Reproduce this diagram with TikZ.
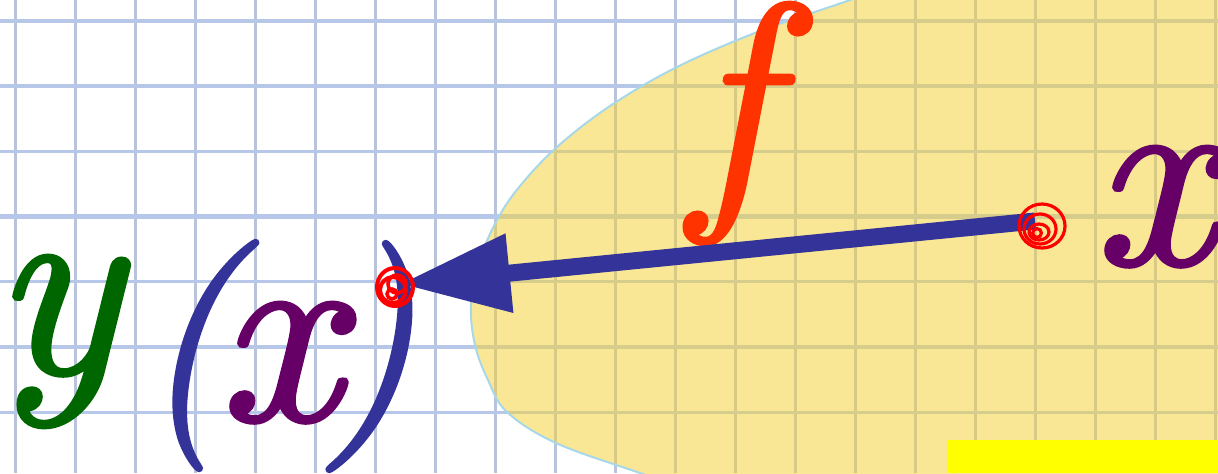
\documentclass[tikz,border=0pt]{standalone}
\usepackage{fontspec}
\newfontfamily\glyphfont{lmroman10-italic.otf}[FakeBold=1.4]
\usetikzlibrary{arrows.meta}
\definecolor{gridv}{RGB}{186,195,220}
\definecolor{gridh}{RGB}{182,199,233}
\definecolor{ellfill}{RGB}{247,209,47}
\definecolor{ellline}{RGB}{168,216,232}
\definecolor{fcol}{RGB}{255,51,0}
\definecolor{xcol}{RGB}{102,0,102}
\definecolor{ycol}{RGB}{0,102,0}
\definecolor{pcol}{RGB}{51,51,153}
\definecolor{scrib}{RGB}{255,0,0}
\definecolor{boxyellow}{RGB}{255,255,0}
\begin{document}
\begin{tikzpicture}[x=0.5pt,y=-0.5pt,
  glyph/.style={inner sep=0pt, outer sep=0pt, anchor=base west, font=\glyphfont\fontsize{133}{133}\selectfont},
  paren/.style={inner sep=0pt, outer sep=0pt, anchor=base west, font=\glyphfont\fontsize{115}{115}\selectfont},
  vline/.style={draw=gridv, line width=1.5pt},
  hline/.style={draw=gridh, line width=1.6pt},
  hthick/.style={draw=gridh, line width=2.2pt},
  scribble/.style={draw=scrib, line width=1.6pt},
  arrowline/.style={draw=pcol, line width=8.5pt, -{Triangle[length=55pt,width=37.5pt]}},
  ellshape/.style={fill=ellfill, fill opacity=0.5},
  ellborder/.style={draw=ellline, line width=1pt}
  ]
\useasboundingbox (0,0) rectangle (1218,473);
\clip (0,0) rectangle (1218,473);
\fill[white] (0,0) rectangle (1218,473);
% grid
\foreach \i in {0,...,20} \draw[vline] ({15+60*\i},0) -- ({15+60*\i},473);
\foreach \j in {0,2,4,6,7} \draw[hline] (0,{21+65.2*\j}) -- (1218,{21+65.2*\j});
\foreach \j in {1,3,5} \draw[hthick] (0,{21+65.2*\j}) -- (1218,{21+65.2*\j});
% ellipse region
\path[ellshape] plot[smooth, tension=0.6] coordinates {(930,-30) (850,0) (760,31) (677,67) (610,106) (557,147) (520,186) (497,220) (479,262) (471,305) (475,345) (488,380) (507,412) (556,443) (640,473) (720,500)} -- (1300,500) -- (1300,-30) -- cycle;
\draw[ellborder] plot[smooth, tension=0.6] coordinates {(930,-30) (850,0) (760,31) (677,67) (610,106) (557,147) (520,186) (497,220) (479,262) (471,305) (475,345) (488,380) (507,412) (556,443) (640,473) (720,500)};
% yellow box
\fill[boxyellow] (947,440) rectangle (1218,473);
% letters
\node[glyph, text=fcol] (f) at (691,190) {f};
\node[glyph, text=xcol] (xr) at (1092,264) {x};
\node[glyph, text=ycol] (y) at (-8,373) {y};
\node[paren, text=pcol] (lp) at (139,413) {(};
\node[glyph, text=xcol] (xm) at (217,420) {x};
\node[paren, text=pcol] (rp) at (323,414) {)};
% arrow
\coordinate (as) at (1035,221);
\coordinate (ae) at (400,284);
\draw[arrowline] (as) -- (ae);
% scribbles
\coordinate (s1) at (1042,226);
\draw[scribble] (s1) ellipse [x radius=11.5pt, y radius=11pt];
\draw[scribble] ([shift={(-2,3)}]s1) ellipse [x radius=8pt, y radius=7.5pt];
\draw[scribble] ([shift={(-3,6)}]s1) ellipse [x radius=5pt, y radius=4pt];
\draw[scribble] ([shift={(-5,7)}]s1) circle [radius=2.2pt];
\coordinate (s2) at (395,287);
\draw[scribble, line width=2pt] (s2) ellipse [x radius=9pt, y radius=9.5pt];
\draw[scribble, line width=2pt] ([shift={(-2,3)}]s2) circle [radius=6.5pt];
\draw[scribble, line width=1.8pt] ([shift={(2,-3)}]s2) circle [radius=4.5pt];
\draw[scribble, line width=1.8pt] ([shift={(-3,7)}]s2) circle [radius=2.5pt];
\end{tikzpicture}
\end{document}
